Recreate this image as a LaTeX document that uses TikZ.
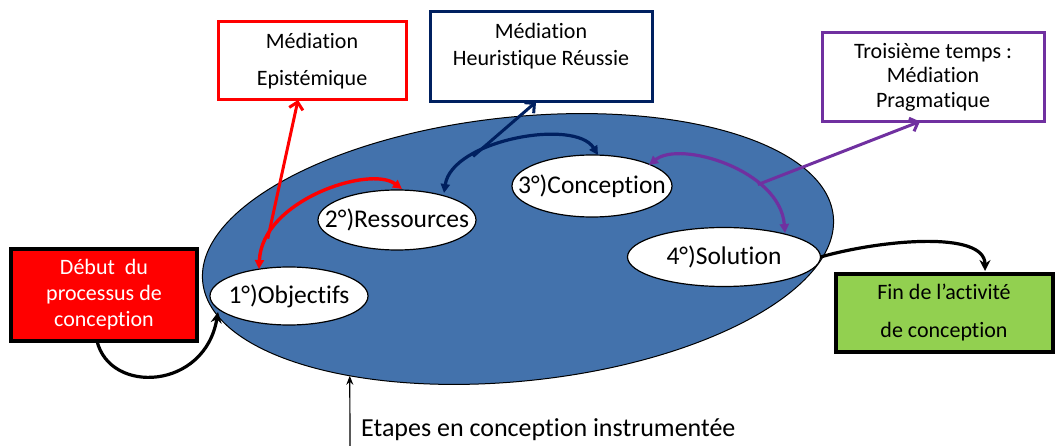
\documentclass[tikz,border=0pt]{standalone}
\usepackage{fontspec}
\setmainfont{Carlito}[Ligatures={NoCommon}]
\usetikzlibrary{arrows.meta,shapes.geometric,calc}
\definecolor{cycleblue}{RGB}{67,114,172}
\definecolor{epired}{RGB}{255,0,0}
\definecolor{heunavy}{RGB}{0,32,96}
\definecolor{prapurple}{RGB}{112,48,160}
\definecolor{fingreen}{RGB}{146,208,80}
% centred label of zero width, so the ellipse keeps its minimum size
\newcommand{\steplabel}[1]{\makebox[0pt]{#1}}

\begin{document}
\begin{tikzpicture}[x=1pt,y=-1pt,
  stage/.style={ellipse, draw=black, line width=1.2pt, fill=white,
    inner sep=0pt, outer sep=0pt, text height=16pt, text depth=0pt,
    font=\fontsize{25.5}{30}\selectfont},
  mediation/.style={rectangle, draw=#1, line width=3pt, fill=white,
    inner sep=0pt, outer sep=0pt, align=center},
  terminal/.style={rectangle, draw=black, line width=4pt, fill=#1,
    inner sep=0pt, outer sep=0pt, align=center},
  both tips/.style={{Triangle[length=9pt,width=9pt]}-{Triangle[length=9pt,width=9pt]}},
  box tip/.style={-{Straight Barb[length=7pt,width=14pt]}},
  flow/.style={line width=3.2pt, black, -{Stealth[length=11pt,width=11pt]}},
]
\useasboundingbox (0,0) rectangle (1055,446);

% the design cycle
\node[ellipse, draw=black, line width=1pt, fill=cycleblue, inner sep=0pt,
  outer sep=0pt, minimum width=634pt, minimum height=264pt, rotate=6]
  (cyc) at (518,249) {};

\node[stage, minimum width=158pt, minimum height=58pt] (obj) at (289,296) {\steplabel{1°)Objectifs}};
\node[stage, minimum width=158pt, minimum height=60pt] (res) at (397,220) {\steplabel{2°)Ressources}};
\node[stage, minimum width=160pt, minimum height=62pt] (con) at (592,186) {\steplabel{3°)Conception}};
\node[stage, minimum width=193pt, minimum height=59pt] (sol) at (724,257) {\steplabel{4°)Solution}};

% mediation boxes
\node[mediation=epired, minimum width=188pt, minimum height=78pt,
  font=\fontsize{22}{37}\selectfont] (epi) at (312,61) {Médiation\\Epistémique};
\node[mediation=heunavy, minimum width=222pt, minimum height=90pt] (heu) at (541,57) {};
\node[align=center, inner sep=0pt, font=\fontsize{22}{27}\selectfont]
  (heutext) at (541,46) {Médiation\\Heuristique Réussie};
\node[mediation=prapurple, minimum width=222pt, minimum height=89pt,
  font=\fontsize{22}{24.5}\selectfont] (pra) at (933,77) {Troisième temps :\\Médiation\\Pragmatique};

% start and end of the process
\node[terminal=epired, text=white, minimum width=186pt, minimum height=92pt,
  font=\fontsize{22}{26}\selectfont] (deb) at (104,295) {Début\ \ du\\processus de\\conception};
\node[terminal=fingreen, minimum width=217pt, minimum height=78pt,
  font=\fontsize{22}{38}\selectfont] (fin) at (944,313) {Fin de l’activité\\de conception};

% epistemic mediation
\draw[epired, line width=3.4pt, both tips]
  ($(obj)+(-30,-27)$) .. controls (262,200) and (370,165) .. ($(res)+(5,-31)$)
  coordinate[pos=0.16] (epiJ);
\draw[epired, line width=3pt, box tip] (epiJ) -- ([xshift=-14pt]epi.south);

% heuristic mediation
\draw[heunavy, line width=3.2pt, both tips]
  ($(res)+(47,-27)$) .. controls (452,140) and (575,118) .. ($(con)+(6,-31)$)
  coordinate[pos=0.28] (heuJ);
\draw[heunavy, line width=3pt, box tip] (heuJ) -- ([xshift=-5pt]heu.south);

% pragmatic mediation
\draw[prapurple, line width=3.2pt, both tips]
  ($(con)+(57,-21)$) .. controls (680,140) and (780,170) .. ($(sol)+(61,-24)$)
  coordinate[pos=0.69] (praJ);
\draw[prapurple, line width=3pt, box tip] (praJ) -- ([xshift=-13pt]pra.south);

% entry and exit
\draw[flow] ([xshift=-7pt]deb.south) .. controls (110,395) and (205,390) .. ($(obj)+(-71,16)$);
\draw[flow] (sol.east) .. controls (880,240) and (985,230) .. ($(fin.north)+(41,-3)$);

% caption arrow
\coordinate (etb) at (350,446);
\draw[line width=1.2pt, -{Stealth[length=9pt,width=7pt]}] (etb) -- (cyc.211);
\node[anchor=base west, inner sep=0pt, font=\fontsize{26}{30}\selectfont]
  (etapes) at (361,436) {Etapes en conception instrumentée};
\end{tikzpicture}
\end{document}
